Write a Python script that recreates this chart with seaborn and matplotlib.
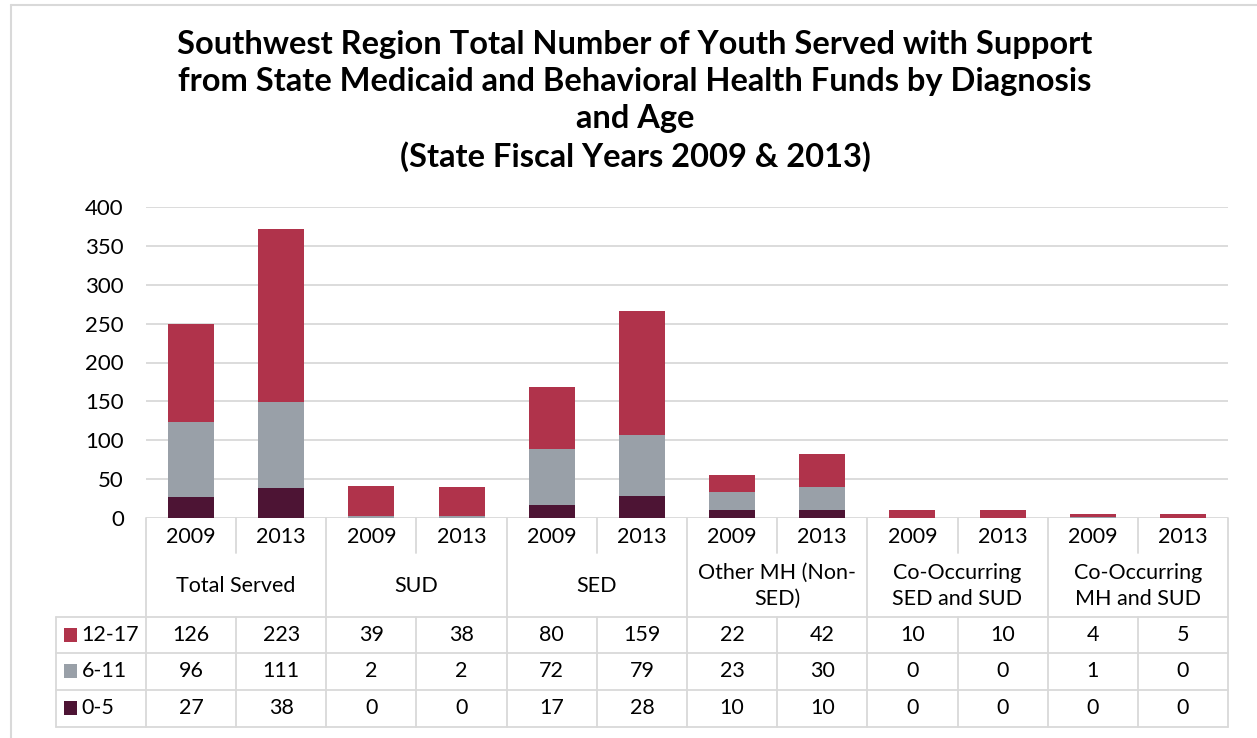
import numpy as np
import matplotlib.pyplot as plt
import seaborn as sns
import pandas as pd
from matplotlib.patches import Rectangle
from matplotlib.lines import Line2D

categories = ["Total Served", "SUD", "SED", "Other MH (Non-\nSED)",
              "Co-Occurring\nSED and SUD", "Co-Occurring\nMH and SUD"]
years = ["2009", "2013"]
age_groups = ["12-17", "6-11", "0-5"]
age_12_17 = [126, 223, 39, 38, 80, 159, 22, 42, 10, 10, 4, 5]
age_6_11 = [96, 111, 2, 2, 72, 79, 23, 30, 0, 0, 1, 0]
age_0_5 = [27, 38, 0, 0, 17, 28, 10, 10, 0, 0, 0, 0]

colors = {"12-17": "#B0334B", "6-11": "#99A0A8", "0-5": "#4D1434"}
grid_col = "#D9D9D9"


if __name__ == '__main__':
    sns.set_style("white")
    plt.rcParams['font.family'] = ['Lato', 'DejaVu Sans']
    plt.rcParams['text.color'] = 'black'
    plt.rcParams['ytick.color'] = 'black'

    df = pd.DataFrame({
        'bar': [f"{c}|{y}" for c in categories for y in years],
        'year': [y for c in categories for y in years],
        '12-17': age_12_17,
        '6-11': age_6_11,
        '0-5': age_0_5,
    })
    # cumulative heights so the bars can be layered on top of each other
    df['top'] = df['0-5'] + df['6-11'] + df['12-17']
    df['mid'] = df['0-5'] + df['6-11']

    fig = plt.figure(figsize=(12.57, 7.38), dpi=100)
    ax = fig.add_axes([146 / 1257, 1 - 518 / 738, (1228 - 146) / 1257, 311 / 738])

    for col, grp in [('top', '12-17'), ('mid', '6-11'), ('0-5', '0-5')]:
        sns.barplot(data=df, x='bar', y=col, color=colors[grp], saturation=1,
                    width=0.51, linewidth=0, ax=ax)

    ax.set_ylim(0, 400)
    ax.set_xlim(-0.5, len(df) - 0.5)
    ax.set_yticks(range(0, 401, 50))
    ax.yaxis.grid(True, color=grid_col, lw=1.3)
    ax.set_axisbelow(True)
    ax.set_xticks([])
    ax.set_xlabel('')
    ax.set_ylabel('')
    ax.tick_params(axis='y', length=0, pad=16, labelsize=16, labelcolor='black')
    for s in ax.spines.values():
        s.set_visible(False)

    def ay(p):
        return (518 - p) / 311

    tr = ax.get_xaxis_transform()
    n = len(df)
    lw = 1.3
    fs = 15.5

    # data table lines
    for i in range(n + 1):
        x = i - 0.5
        if i % 2 == 0:
            ax.plot([x, x], [0, ay(727)], color=grid_col, lw=lw, transform=tr, clip_on=False)
        else:
            ax.plot([x, x], [0, ay(553)], color=grid_col, lw=lw, transform=tr, clip_on=False)
            ax.plot([x, x], [ay(617), ay(727)], color=grid_col, lw=lw, transform=tr, clip_on=False)
    ax.plot([-1.5, -1.5], [ay(617), ay(727)], color=grid_col, lw=lw, transform=tr, clip_on=False)
    for p in [617, 653, 690, 727]:
        ax.plot([-1.5, n - 0.5], [ay(p), ay(p)], color=grid_col, lw=lw, transform=tr, clip_on=False)

    # year and category labels
    for i, y in enumerate(df['year']):
        ax.text(i, ay(537), y, ha='center', va='center', fontsize=fs, transform=tr)
    for j, c in enumerate(categories):
        ax.text(2 * j + 0.5, ay(586), c, ha='center', va='center', fontsize=fs,
                linespacing=1.35, transform=tr)

    # value rows with legend keys
    row_y = [635, 671, 708]
    for r, grp in enumerate(age_groups):
        yc = ay(row_y[r])
        ax.add_patch(Rectangle((-1.41, yc - 0.021), 0.144, 0.042, facecolor=colors[grp],
                               edgecolor='none', transform=tr, clip_on=False))
        ax.text(-1.215, yc, grp, ha='left', va='center', fontsize=fs, transform=tr)
        for i, v in enumerate(df[grp]):
            ax.text(i, yc, str(v), ha='center', va='center', fontsize=fs, transform=tr)

    fig.suptitle("Southwest Region Total Number of Youth Served with Support\n"
                 "from State Medicaid and Behavioral Health Funds by Diagnosis\n"
                 "and Age\n(State Fiscal Years 2009 & 2013)",
                 x=635 / 1257, y=1 - 30 / 738, va='top', fontsize=23.5, fontweight='bold',
                 linespacing=1.33, color='black')

    # outer chart border
    fig.add_artist(Line2D([11 / 1257, 11 / 1257], [0, 1 - 5 / 738], color=grid_col, lw=1.5))
    fig.add_artist(Line2D([11 / 1257, 1], [1 - 5 / 738, 1 - 5 / 738], color=grid_col, lw=1.5))

    fig.savefig("out.png", dpi=100)
